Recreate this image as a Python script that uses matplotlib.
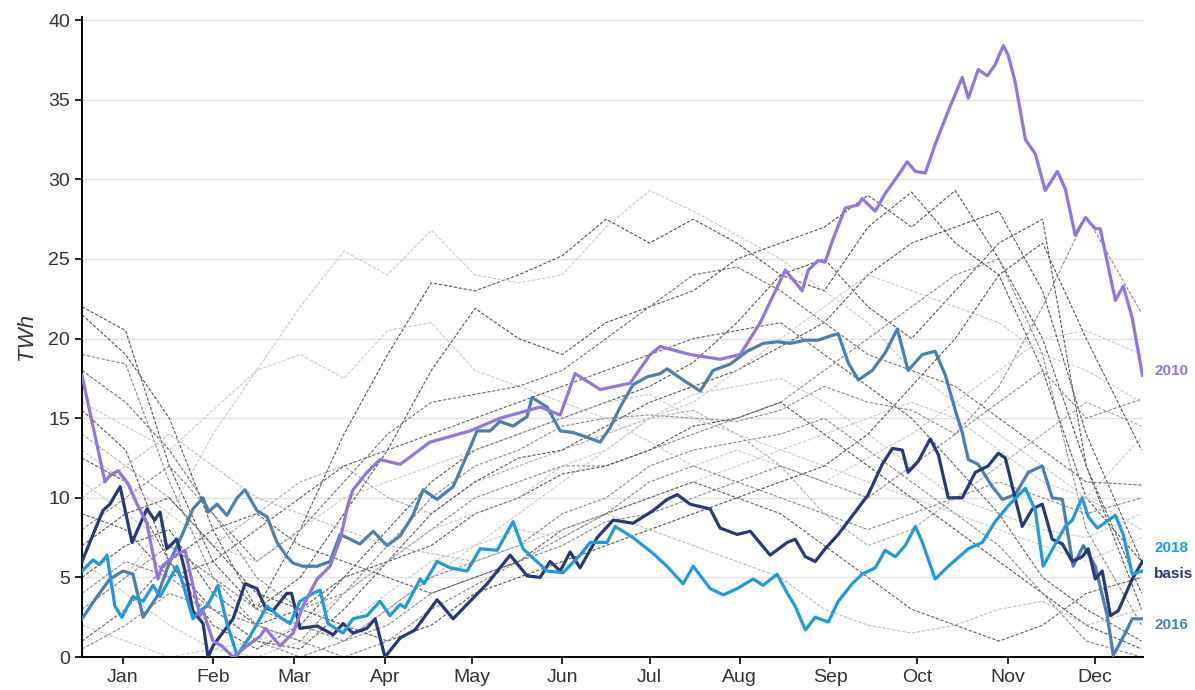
import numpy as np
import matplotlib.pyplot as plt

plt.rcParams['font.family'] = ['Liberation Sans', 'DejaVu Sans']

months = ['Jan', 'Feb', 'Mar', 'Apr', 'May', 'Jun', 'Jul', 'Aug', 'Sep', 'Oct', 'Nov', 'Dec']
month_mid = [14, 45, 73, 104, 134, 165, 195, 226, 257, 287, 318, 348]

# highlighted years: day of year / TWh
days_2010 = [0, 7.9, 9.6, 12.4, 15.8, 18.9, 22.3, 26.1, 27.5, 31.3, 35.4, 37, 40.5, 41.6, 45, 48, 51.9,
             56.7, 61.2, 63, 68, 72.5, 75.9, 80.8, 85.2, 88.7, 91.4, 93.1, 97.9, 102.4, 109.3,
             119.6, 133.3, 143.6, 157.4, 164.3, 169.4, 178, 188.3, 195.2, 198.6, 208.9, 219.2,
             226.1, 233, 241.6, 247.4, 249.5, 252.9, 255.3, 257.7, 262.2, 266.7, 268, 272.5, 275.9,
             279.4, 283.5, 286.3, 289.7, 293.1, 297.6, 302.4, 304.5, 307.9, 311, 313.7, 316.5,
             318.2, 320.6, 324.1, 327.5, 330.9, 335.1, 337.8, 341.2, 344.7, 348.1, 349.8, 355,
             357.7, 360.8, 364.3]
twh_2010 = [17.7, 11.0, 11.4, 11.7, 10.9, 9.6, 8.4, 4.9, 5.7, 6.3, 6.7, 5.4, 2.6, 2.9, 1.0, 0.7, 0,
            0.7, 1.3, 1.8, 0.7, 1.5, 3.2, 4.9, 5.7, 7.4, 9.6, 10.5, 11.6, 12.4, 12.1,
            13.5, 14.2, 15.0, 15.7, 15.2, 17.8, 16.8, 17.2, 19.0, 19.5, 19.0, 18.7,
            19.0, 21.0, 24.3, 23.0, 24.3, 24.9, 24.8, 26.1, 28.2, 28.4, 28.8, 28.0, 29.1,
            30.0, 31.1, 30.5, 30.4, 32.2, 34.3, 36.4, 35.1, 36.9, 36.5, 37.2, 38.4,
            37.8, 36.1, 32.5, 31.6, 29.3, 30.5, 29.4, 26.5, 27.6, 26.9, 26.9, 22.4,
            23.3, 21.3, 17.7]

days_basis = [0, 7.2, 9.6, 13.1, 17.2, 22.3, 25, 26.8, 29.2, 32.6, 35.4, 38.1, 41.6, 43.3, 45,
              51.9, 56, 60.1, 63, 65.6, 70.4, 72, 74.9, 80.8, 86.3, 89.7, 93.1, 97.9, 100.7, 104.1,
              109.3, 114.4, 122, 127.5, 133.3, 139.2, 147.1, 152.9, 157.4, 160.8, 164.3, 167.7,
              171.1, 177, 182.5, 189.3, 196.2, 201, 204.5, 208.9, 215.8, 219.2, 225.1, 229.6,
              236.4, 242.3, 245, 248.5, 251.9, 255.3, 259.8, 265.6, 270.1, 274.9, 278.4, 281.8,
              283.8, 287.3, 291.4, 294.2, 297.6, 302.4, 306.9, 311.3, 314.8, 317.2, 319.6, 323,
              326.5, 329.9, 333.3, 336.8, 340.2, 343.6, 345.7, 348.1, 350.5, 353.3, 356, 360.8,
              364.3]
twh_basis = [6.0, 9.2, 9.6, 10.7, 7.2, 9.3, 8.6, 9.1, 6.8, 7.4, 5.4, 2.9, 2.1, 0, 0.7,
             2.4, 4.6, 4.3, 3.1, 2.9, 4.0, 4.0, 1.8, 1.95, 1.4, 2.1, 1.5, 1.8, 2.4, 0,
             1.2, 1.7, 3.6, 2.4, 3.5, 4.6, 6.4, 5.1, 5.0, 6.0, 5.4, 6.6,
             5.6, 7.5, 8.6, 8.4, 9.2, 9.9, 10.2, 9.6, 9.3, 8.1, 7.7, 7.9,
             6.4, 7.2, 7.4, 6.3, 6.0, 6.8, 7.7, 9.1, 10.2, 12.1, 13.1, 13.0,
             11.6, 12.3, 13.7, 12.7, 10.0, 10.0, 11.6, 12.0, 12.8, 12.5, 10.7, 8.2,
             9.3, 9.6, 7.4, 7.1, 6.0, 6.3, 6.8, 4.9, 5.4, 2.6, 2.9, 4.9,
             6.0]

days_2018 = [0, 3.8, 6, 8.6, 11.3, 13.7, 17.5, 21, 24.4, 26.8, 32.6, 34.7, 38.1, 40.5, 43,
             46.7, 49.8, 53.3, 57.7, 63.6, 68, 71.5, 74.9, 79.4, 81.8, 84.5, 89.7, 93.1, 97.9,
             102.4, 105.8, 109.3, 111, 116.2, 117.5, 122, 126.5, 132.3, 136.8, 142.6, 148.1,
             151.5, 159.8, 165.3, 171.1, 174.6, 180.4, 183.2, 189.3, 196.2, 201, 206.5, 210,
             215.8, 220.3, 225.1, 230.6, 234, 238.8, 242.3, 245, 248.5, 251.9, 256.4, 259.8,
             264.6, 268, 272.5, 275.9, 279.4, 282.8, 286.3, 288.7, 293.1, 297.6, 304.5, 309.3,
             313.7, 318.2, 324.1, 327.5, 330.2, 334.4, 337.8, 340.2, 343.6, 345.7, 348.8, 355,
             357.7, 360.8, 364.3]
twh_2018 = [5.4, 6.1, 5.8, 6.4, 3.2, 2.5, 3.8, 3.5, 4.5, 3.8, 5.7, 4.6, 2.4, 2.9, 3.2,
            4.5, 2.1, 0.1, 1.3, 3.2, 2.5, 2.1, 3.5, 4.0, 4.2, 2.1, 1.5, 2.4, 2.6,
            3.5, 2.6, 3.3, 3.1, 4.9, 4.6, 6.0, 5.6, 5.4, 6.8, 6.7, 8.5,
            6.8, 5.4, 5.3, 6.4, 7.2, 7.2, 8.2, 7.5, 6.5, 5.7, 4.6, 5.7,
            4.3, 3.9, 4.3, 4.9, 4.5, 5.2, 4.0, 3.2, 1.7, 2.5, 2.2, 3.5,
            4.6, 5.2, 5.6, 6.7, 6.3, 7.0, 8.2, 7.2, 4.9, 5.7, 6.8, 7.2,
            8.5, 9.5, 10.6, 9.2, 5.7, 7.1, 8.2, 8.6, 10.0, 8.8, 8.1, 8.9,
            7.7, 5.2, 5.4]

days_2016 = [0, 5.2, 9.6, 14.1, 17.5, 21, 25.8, 30.2, 34.7, 38.1, 41.6, 43.3, 46.4, 49.8, 53.3,
             56, 60.1, 63.6, 67, 70.4, 72.5, 75.9, 80.8, 85.2, 88.7, 92.1, 95.5, 100, 104.8,
             109.3, 113.7, 117.2, 122, 127.5, 130.9, 135.7, 140.2, 143.6, 148.1, 152.9, 154.6,
             159.8, 164.3, 168.7, 173.5, 178, 181.4, 184.9, 189.3, 194.2, 198.6, 201, 206.5,
             212.4, 216.8, 222.7, 228.5, 234, 238.8, 243.3, 248.5, 252.9, 257.7, 259.8, 263.2,
             266.7, 271.5, 275.9, 280.1, 283.8, 288.7, 293.1, 296.6, 300, 302.4, 304.5, 307.9,
             312.7, 316.2, 320.6, 325.1, 329.9, 333.3, 336.8, 340.5, 344, 348.1, 352.2, 354.3,
             358.4, 360.8, 364.3]
twh_2016 = [2.4, 3.8, 4.9, 5.4, 5.2, 2.5, 3.8, 6.0, 7.8, 9.3, 10.0, 9.1, 9.6, 8.9, 10.0,
            10.5, 9.2, 8.8, 7.2, 6.3, 5.9, 5.7, 5.7, 6.0, 7.7, 7.4, 7.1, 7.9, 7.0,
            7.6, 8.9, 10.5, 9.9, 10.7, 12.1, 14.2, 14.2, 14.8, 14.5, 15.1, 16.3,
            15.7, 14.2, 14.1, 13.8, 13.5, 14.4, 15.7, 17.1, 17.6, 17.8, 18.1, 17.4,
            16.7, 18.0, 18.4, 19.2, 19.7, 19.8, 19.7, 19.9, 19.9, 20.2, 20.3, 18.5,
            17.4, 18.0, 19.1, 20.6, 18.0, 19.0, 19.2, 17.7, 15.5, 14.1, 12.4, 12.1,
            10.7, 9.9, 10.2, 11.6, 12.0, 10.0, 9.9, 5.7, 7.0, 5.7, 2.6, 0.1,
            1.5, 2.4, 2.4]

# other years (grey background), sampled every ~15 days
grey_days = [0, 15, 30, 45, 60, 75, 90, 105, 120, 135, 150, 165, 180, 195, 210, 225, 240, 255,
             270, 285, 300, 315, 330, 345, 364]
grey_years = [
    [22, 20.5, 12, 6, 3, 8, 14, 19, 23.5, 23, 24, 25.2, 27.5, 26, 27.5, 26, 24, 23, 27, 29.2, 26, 24, 18, 10, 6],
    [3, 5, 9, 14, 18, 22, 25.5, 24, 26.8, 24, 23.5, 24, 27, 29.3, 28, 26.5, 25, 23, 21, 18, 16, 14, 12, 10, 8],
    [21.5, 19, 15, 8, 3, 5, 9, 13, 18, 21.9, 20, 19, 21, 22, 23, 25, 26, 27, 29, 27, 29.3, 25, 20, 12, 4],
    [19, 18.4, 11, 5, 2, 1, 4, 7, 10, 12, 13, 14.5, 15, 15.2, 15, 14.8, 15.5, 17, 16, 15.5, 14, 17, 22, 27.7, 21.6],
    [16, 14.5, 13, 15.5, 18, 19, 17.5, 20.5, 21, 18, 17, 16, 15, 13.5, 12, 13, 12, 11, 12.5, 14, 16, 18, 20, 20.5, 19],
    [15.5, 13, 6, 2, 0.5, 2, 5, 8, 11, 13, 14, 15, 16, 17, 18.5, 21, 24, 25, 22, 20, 23, 26, 27.5, 12, 3],
    [14, 12, 10, 7, 9, 11, 12, 10, 9, 11, 12, 13, 14, 15, 15.5, 14, 12, 9, 7, 8, 10, 12, 14, 16, 14.5],
    [12.5, 11, 6, 3, 1, 0.5, 3, 6, 9, 11, 12.5, 13, 14.5, 16, 17, 18, 19.5, 21, 24, 26, 27, 28, 23, 14, 6],
    [11, 9, 7, 5, 3, 2, 1, 3, 5, 7, 9, 11, 13, 15, 16.5, 17, 17.5, 16, 14, 12, 10, 9, 8, 7.5, 9],
    [9, 8, 5, 6, 8, 10, 12, 13, 14, 15, 16, 17, 18, 19, 20, 20.5, 21, 19, 17, 15, 12, 9, 5, 3, 1],
    [8, 10, 12, 9, 5, 3, 4, 6, 8, 10, 11, 12, 12, 13, 14, 15, 16, 18, 20, 22, 24, 25, 19, 8, 2],
    [6, 4, 2, 0.5, 0, 1, 2, 4, 6, 7, 8, 7.5, 9, 10, 11, 12, 13, 14, 15, 16, 15, 13, 11, 10, 13.8],
    [5, 7, 8, 4, 2, 3, 5, 6, 7, 9, 10, 11.5, 12, 13, 14.5, 15, 16, 14, 12, 10, 8, 6, 4, 2, 0.5],
    [3, 5, 7, 5, 3, 2, 1, 2, 4, 5, 6, 7, 8.5, 9, 10, 11, 12, 11, 10, 12, 14, 16, 18, 15, 16.2],
    [2, 1, 0, 0.5, 1, 2, 4, 6, 8, 9, 10, 12, 13, 15, 16, 18, 20, 22, 24, 23, 22, 21, 19, 18, 16],
    [1, 3, 6, 8, 9, 7, 6, 5, 4, 5, 6, 8, 9, 10, 11, 10, 9, 7, 5, 3, 2, 1, 2, 4, 5],
    [0.5, 2, 4, 3, 1, 0, 1, 3, 5, 6, 7, 9, 10, 12, 13, 13.5, 14, 15, 13, 11, 9, 7, 4, 1, 0],
    [18, 16, 13, 9, 6, 8, 11, 14, 16, 16.5, 17, 18, 20, 22, 24, 24.5, 23, 21, 19, 18, 17, 15, 13, 11, 10.8],
    [13, 11, 9, 7, 6, 8, 10, 11, 12, 13, 14, 15, 16, 16.5, 15, 14, 13, 12, 11, 10, 9, 8, 7, 6, 7.5],
    [7, 9, 10, 7, 4, 3, 2, 1, 2, 4, 5, 6, 7, 8, 9, 10, 11, 12, 14, 17, 20, 24, 26, 20, 13],
    [10, 12, 14, 12, 10, 9, 8, 7, 6.5, 6, 7, 8, 9, 8, 7, 6, 5, 3, 2, 1.5, 2, 3, 3.5, 2, 3],
    [4, 6, 5, 3, 2, 1, 0, 1, 3, 4.5, 6, 7.5, 9, 11, 12, 11, 10, 9, 8, 9, 10, 11, 10, 9, 10],
]
grey_shades = ['#555555', '#c8c8c8', '#555555', '#888888', '#c8c8c8', '#555555', '#aaaaaa',
               '#555555', '#c8c8c8', '#606060', '#888888', '#c8c8c8', '#555555', '#888888',
               '#c8c8c8', '#606060', '#888888', '#707070', '#c8c8c8', '#555555', '#bbbbbb', '#888888']

fig = plt.figure(figsize=(11.95, 6.9), dpi=100)
ax = fig.add_axes([0.0686, 0.0478, 0.8879, 0.9276])

for vals, c in zip(grey_years, grey_shades):
    ax.plot(grey_days, vals, color=c, lw=0.8, linestyle=(0, (3, 1.5)), zorder=1)

series = [
    ('2016', days_2016, twh_2016, '#4a7fb1'),
    ('basis', days_basis, twh_basis, '#26397a'),
    ('2018', days_2018, twh_2018, '#1a9be2'),
    ('2010', days_2010, twh_2010, '#9474e0'),
]
for name, d, v, c in series:
    ax.plot(d, v, color=c, lw=2.3, zorder=3)

# labels at the right end, dodged so they don't overlap
label_y = {'2010': 17.95, '2018': 6.85, 'basis': 5.2, '2016': 2.0}
for name, d, v, c in series:
    ax.text(368.3, label_y[name], name, color=c, fontsize=11, fontweight='bold',
            ha='left', va='center', clip_on=False)

ax.set_xlim(0, 364.5)
ax.set_ylim(0, 40.2)
ax.set_yticks(range(0, 41, 5))
ax.set_xticks(month_mid)
ax.set_xticklabels(months)
ax.tick_params(axis='both', labelsize=14, labelcolor='#333333', length=5, width=1.2, direction='out')
ax.set_ylabel('TWh', fontsize=16, fontstyle='italic', color='#333333', labelpad=8)

ax.yaxis.grid(True, color='#e3e3e3', lw=1)
ax.set_axisbelow(True)
for s in ['top', 'right']:
    ax.spines[s].set_visible(False)
for s in ['left', 'bottom']:
    ax.spines[s].set_color('black')
    ax.spines[s].set_linewidth(1.4)

fig.savefig('out.png', dpi=100)
